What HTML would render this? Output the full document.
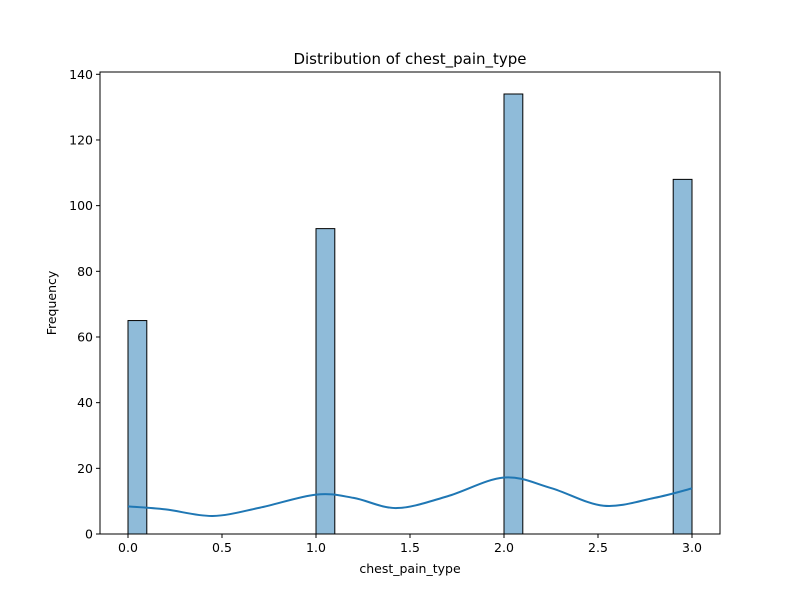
<!DOCTYPE html>
<html><head><meta charset="utf-8"><style>body{margin:0;background:#fff}svg{display:block;font-family:"DejaVu Sans","Liberation Sans",sans-serif}</style></head>
<body>
<svg id="c" width="800" height="600"></svg>
<script>
const binStarts=[0.0,1.0,2.0,2.9];
const counts=[65,93,134,108];
const kdeX=[0,0.2,0.45,0.7,1.0,1.2,1.43,1.7,2.0,2.25,2.53,2.8,3.0];
const kdeY=[8.4,7.5,5.5,8.0,12.0,11.0,7.9,11.5,17.2,14.0,8.6,11.0,13.9];
const xTicks=[0,0.5,1,1.5,2,2.5,3];
const yTicks=[0,20,40,60,80,100,120,140];
const L=100,R=720,T=72,B=534;
const xs=v=>128+v*188;
const ys=v=>534-v*(462/140.7);
const ns="http://www.w3.org/2000/svg",svg=document.getElementById('c');
function el(t,a,txt){const e=document.createElementNS(ns,t);for(const k in a)e.setAttribute(k,a[k]);if(txt!==undefined)e.textContent=txt;svg.appendChild(e);return e;}
binStarts.forEach((b,i)=>{const r=el('rect',{x:xs(b),y:ys(counts[i]),width:xs(b+0.1)-xs(b),height:ys(0)-ys(counts[i]),fill:'rgba(31,119,180,0.5)',stroke:'#000','stroke-width':1});

});
let pts=kdeX.map((x,i)=>[xs(x),ys(kdeY[i])]);
let d='M'+pts[0][0]+','+pts[0][1];
for(let i=0;i<pts.length-1;i++){const p0=pts[i-1]||pts[i],p1=pts[i],p2=pts[i+1],p3=pts[i+2]||p2;
d+=` C${p1[0]+(p2[0]-p0[0])/6},${p1[1]+(p2[1]-p0[1])/6} ${p2[0]-(p3[0]-p1[0])/6},${p2[1]-(p3[1]-p1[1])/6} ${p2[0]},${p2[1]}`;}
const k=el('path',{d:d,fill:'none',stroke:'#1f77b4','stroke-width':2});


const f=el('rect',{x:L,y:T,width:R-L,height:B-T,fill:'none',stroke:'#000','stroke-width':1});


xTicks.forEach(v=>{el('line',{x1:xs(v),x2:xs(v),y1:B,y2:B+4,stroke:'#000'});
const t=el('text',{x:xs(v),y:B+18,'text-anchor':'middle','font-size':12.5},v.toFixed(1));

});
yTicks.forEach(v=>{el('line',{x1:L-4,x2:L,y1:ys(v),y2:ys(v),stroke:'#000'});
const t=el('text',{x:L-7,y:ys(v)+4.5,'text-anchor':'end','font-size':12.5},v);

});
const xt=el('text',{x:410,y:573,'text-anchor':'middle','font-size':12.5},'chest_pain_type');


const yt=el('text',{x:56,y:303,'text-anchor':'middle','font-size':12.5,transform:'rotate(-90 56 303)'},'Frequency');


const ti=el('text',{x:410,y:64,'text-anchor':'middle','font-size':15},'Distribution of chest_pain_type');


</script>
</body></html>
